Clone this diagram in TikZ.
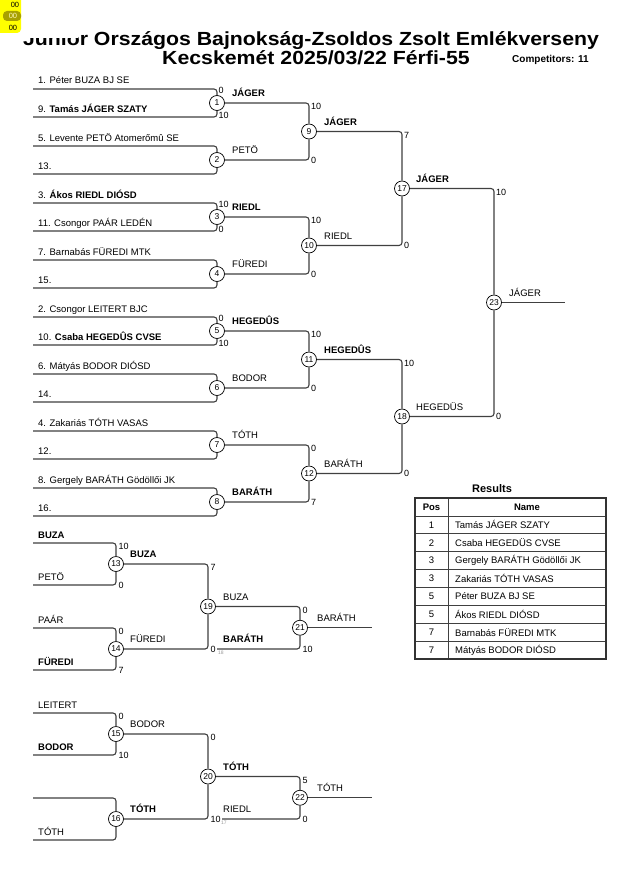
\documentclass[tikz,border=0pt]{standalone}
\usepackage{fontspec}
\setmainfont{Liberation Sans}
\newfontfamily\headfont[FakeStretch=1.12]{Liberation Sans}
\definecolor{padyellow}{HTML}{FFFF00}
\definecolor{padolive}{HTML}{A8A000}

\begin{document}
\begin{tikzpicture}[x=1pt,y=-1pt,
    bracket/.style={draw=black!75, line width=1.1pt, rounded corners=3pt},
    bout/.style={circle, draw, fill=white, line width=0.7pt, inner sep=0pt, minimum size=15pt, font=\fontsize{8.5}{9}\selectfont},
    entry/.style={anchor=base west, inner sep=0pt, font=\fontsize{9.5}{11}\selectfont},
    score/.style={anchor=west, inner sep=0pt, font=\fontsize{9}{10}\selectfont},
    via/.style={anchor=west, inner sep=0pt, text=black!40, font=\fontsize{5}{6}\selectfont}]
  \useasboundingbox (0,0) rectangle (630,891);
  \fill[white] (0,0) rectangle (630,891);

  % heading
  \node[anchor=base, inner sep=0pt, font=\headfont\fontsize{19}{22}\selectfont\bfseries] (title) at (311,46) {Junior Országos Bajnokság-Zsoldos Zsolt Emlékverseny};
  \node[anchor=base, inner sep=0pt, font=\headfont\fontsize{19}{22}\selectfont\bfseries] (place) at (316,64.5) {Kecskemét 2025/03/22 Férfi-55};
  \node[anchor=base west, inner sep=0pt, font=\fontsize{10}{12}\selectfont\bfseries] (count) at (512,63) {Competitors: 11};
  \fill[white] (0,0) rectangle (78,38.5);
  \fill[padyellow, rounded corners=4pt] (-10,-10) rectangle (21,33);
  \fill[padolive, rounded corners=4pt] (3,11) rectangle (21,21);
  \node[inner sep=0pt, font=\fontsize{7.5}{8}\selectfont] (pad1) at (15,5) {00};
  \node[inner sep=0pt, text=yellow!25, font=\fontsize{7.5}{8}\selectfont] (pad2) at (13,16) {00};
  \node[inner sep=0pt, font=\fontsize{7.5}{8}\selectfont] (pad3) at (13,27.5) {00};

  % main draw, first round
  \foreach \k/\top/\bot/\win in {
      1/{1. Péter BUZA BJ SE}/{9. \textbf{Tamás JÁGER SZATY}}/{\textbf{JÁGER}},
      2/{5. Levente PETÖ Atomerőmû SE}/{13.}/{PETÖ},
      3/{3. \textbf{Ákos RIEDL DIÓSD}}/{11. Csongor PAÁR LEDÉN}/{\textbf{RIEDL}},
      4/{7. Barnabás FÜREDI MTK}/{15.}/{FÜREDI},
      5/{2. Csongor LEITERT BJC}/{10. \textbf{Csaba HEGEDÛS CVSE}}/{\textbf{HEGEDÛS}},
      6/{6. Mátyás BODOR DIÓSD}/{14.}/{BODOR},
      7/{4. Zakariás TÓTH VASAS}/{12.}/{TÓTH},
      8/{8. Gergely BARÁTH Gödöllői JK}/{16.}/{\textbf{BARÁTH}}} {
    \pgfmathsetmacro\y{103+57*(\k-1)}
    \node[bout] (m\k) at (217,\y) {\k};
    \coordinate (a\k) at (33,\y-14);
    \coordinate (b\k) at (33,\y+14);
    \draw[bracket] (a\k) -| (m\k);
    \draw[bracket] (b\k) -| (m\k);
    \node[entry] (na\k) at (38,\y-19) {\top};
    \node[entry] (nb\k) at (38,\y+9) {\bot};
    \node[entry] (w\k) at (232,\y-6.5) {\win};
  }
  \node[score] at (218.5,90.5) {0};
  \node[score] at (218.5,115) {10};
  \node[score] at (218.5,204.5) {10};
  \node[score] at (218.5,229) {0};
  \node[score] at (218.5,318.5) {0};
  \node[score] at (218.5,343) {10};

  % second round
  \node[bout] (m9) at (309,131.5) {9};
  \node[bout] (m10) at (309,245.5) {10};
  \node[bout] (m11) at (309,359.5) {11};
  \node[bout] (m12) at (309,473.5) {12};
  \draw[bracket] (m1) -| (m9);
  \draw[bracket] (m2) -| (m9);
  \draw[bracket] (m3) -| (m10);
  \draw[bracket] (m4) -| (m10);
  \draw[bracket] (m5) -| (m11);
  \draw[bracket] (m6) -| (m11);
  \draw[bracket] (m7) -| (m12);
  \draw[bracket] (m8) -| (m12);
  \node[entry] (w9) at (324,125) {\textbf{JÁGER}};
  \node[entry] (w10) at (324,239) {RIEDL};
  \node[entry] (w11) at (324,353) {\textbf{HEGEDÛS}};
  \node[entry] (w12) at (324,467) {BARÁTH};
  \node[score] at (311,106.5) {10};
  \node[score] at (311,160) {0};
  \node[score] at (311,220.5) {10};
  \node[score] at (311,274) {0};
  \node[score] at (311,334.5) {10};
  \node[score] at (311,388) {0};
  \node[score] at (311,448.5) {0};
  \node[score] at (311,502) {7};

  % semi-finals and final
  \node[bout] (m17) at (402,188.5) {17};
  \node[bout] (m18) at (402,416.5) {18};
  \node[bout] (m23) at (494,302.5) {23};
  \coordinate (out23) at (565,302.5);
  \draw[bracket] (m9) -| (m17);
  \draw[bracket] (m10) -| (m17);
  \draw[bracket] (m11) -| (m18);
  \draw[bracket] (m12) -| (m18);
  \draw[bracket] (m17) -| (m23);
  \draw[bracket] (m18) -| (m23);
  \draw[bracket] (m23) -- (out23);
  \node[entry] (w17) at (416,182) {\textbf{JÁGER}};
  \node[entry] (w18) at (416,410) {HEGEDÜS};
  \node[entry] (w23) at (509,296) {JÁGER};
  \node[score] at (404,135) {7};
  \node[score] at (404,245.5) {0};
  \node[score] at (404,363) {10};
  \node[score] at (404,473.5) {0};
  \node[score] at (496,192) {10};
  \node[score] at (496,416.5) {0};

  % repechage, upper half
  \node[bout] (m13) at (116,564) {13};
  \node[bout] (m14) at (116,649) {14};
  \node[bout] (m19) at (208,606.5) {19};
  \node[bout] (m21) at (300,627.75) {21};
  \coordinate (a13) at (33,543);
  \coordinate (b13) at (33,585);
  \coordinate (a14) at (33,628);
  \coordinate (b14) at (33,670);
  \coordinate (r21) at (217,649);
  \coordinate (out21) at (372,627.75);
  \draw[bracket] (a13) -| (m13);
  \draw[bracket] (b13) -| (m13);
  \draw[bracket] (a14) -| (m14);
  \draw[bracket] (b14) -| (m14);
  \draw[bracket] (m13) -| (m19);
  \draw[bracket] (m14) -| (m19);
  \draw[bracket] (m19) -| (m21);
  \draw[bracket] (r21) -| (m21);
  \draw[bracket] (m21) -- (out21);
  \node[entry] (na13) at (38,538) {\textbf{BUZA}};
  \node[entry] (nb13) at (38,580) {PETÖ};
  \node[entry] (na14) at (38,623) {PAÁR};
  \node[entry] (nb14) at (38,665) {\textbf{FÜREDI}};
  \node[entry] (w13) at (130,557.5) {\textbf{BUZA}};
  \node[entry] (w14) at (130,642.5) {FÜREDI};
  \node[entry] (w19) at (223,600) {BUZA};
  \node[entry] (nr21) at (223,642.5) {\textbf{BARÁTH}};
  \node[entry] (w21) at (317,621.25) {BARÁTH};
  \node[score] at (118.5,546.5) {10};
  \node[score] at (118.5,585) {0};
  \node[score] at (118.5,631.5) {0};
  \node[score] at (118.5,670) {7};
  \node[score] at (210.5,567.5) {7};
  \node[score] at (210.5,649) {0};
  \node[via] at (218,652.5) {18};
  \node[score] at (302.5,610) {0};
  \node[score] at (302.5,649) {10};

  % repechage, lower half
  \node[bout] (m15) at (116,734) {15};
  \node[bout] (m16) at (116,819) {16};
  \node[bout] (m20) at (208,776.5) {20};
  \node[bout] (m22) at (300,797.75) {22};
  \coordinate (a15) at (33,713);
  \coordinate (b15) at (33,755);
  \coordinate (a16) at (33,798);
  \coordinate (b16) at (33,840);
  \coordinate (r22) at (222,819);
  \coordinate (out22) at (372,797.75);
  \draw[bracket] (a15) -| (m15);
  \draw[bracket] (b15) -| (m15);
  \draw[bracket] (a16) -| (m16);
  \draw[bracket] (b16) -| (m16);
  \draw[bracket] (m15) -| (m20);
  \draw[bracket] (m16) -| (m20);
  \draw[bracket] (m20) -| (m22);
  \draw[bracket] (r22) -| (m22);
  \draw[bracket] (m22) -- (out22);
  \node[entry] (na15) at (38,708) {LEITERT};
  \node[entry] (nb15) at (38,750) {\textbf{BODOR}};
  \node[entry] (nb16) at (38,835) {TÓTH};
  \node[entry] (w15) at (130,727.5) {BODOR};
  \node[entry] (w16) at (130,812.5) {\textbf{TÓTH}};
  \node[entry] (w20) at (223,770) {\textbf{TÓTH}};
  \node[entry] (nr22) at (223,812.5) {RIEDL};
  \node[entry] (w22) at (317,791.25) {TÓTH};
  \node[score] at (118.5,716.5) {0};
  \node[score] at (118.5,755) {10};
  \node[score] at (210.5,737.5) {0};
  \node[score] at (210.5,819) {10};
  \node[via] at (221,822.5) {17};
  \node[score] at (302.5,780) {5};
  \node[score] at (302.5,819) {0};

  % results
  \node[inner sep=0pt, font=\fontsize{11}{13}\selectfont\bfseries] (results) at (492,489) {Results};
  \foreach \i in {1,...,8}
    \draw[black!75, line width=0.7pt] (415,{498+17.9*\i}) -- (606,{498+17.9*\i});
  \draw[black!75, line width=0.7pt] (448,498) -- (448,659);
  \draw[black!80, line width=1.4pt] (415,498) rectangle (606,659);
  \node[inner sep=0pt, font=\fontsize{9.5}{11}\selectfont\bfseries] (pos) at (431.5,507) {Pos};
  \node[inner sep=0pt, font=\fontsize{9.5}{11}\selectfont\bfseries] (name) at (527,507) {Name};
  \foreach \i/\p/\n in {1/1/{Tamás JÁGER SZATY}, 2/2/{Csaba HEGEDÜS CVSE},
      3/3/{Gergely BARÁTH Gödöllői JK}, 4/3/{Zakariás TÓTH VASAS},
      5/5/{Péter BUZA BJ SE}, 6/5/{Ákos RIEDL DIÓSD},
      7/7/{Barnabás FÜREDI MTK}, 8/7/{Mátyás BODOR DIÓSD}} {
    \node[inner sep=0pt, font=\fontsize{9.5}{11}\selectfont] (pos\i) at (431.5,{498+17.9*\i+9}) {\p};
    \node[anchor=west, inner sep=0pt, font=\fontsize{9.5}{11}\selectfont] (name\i) at (455,{498+17.9*\i+9}) {\n};
  }
\end{tikzpicture}
\end{document}
